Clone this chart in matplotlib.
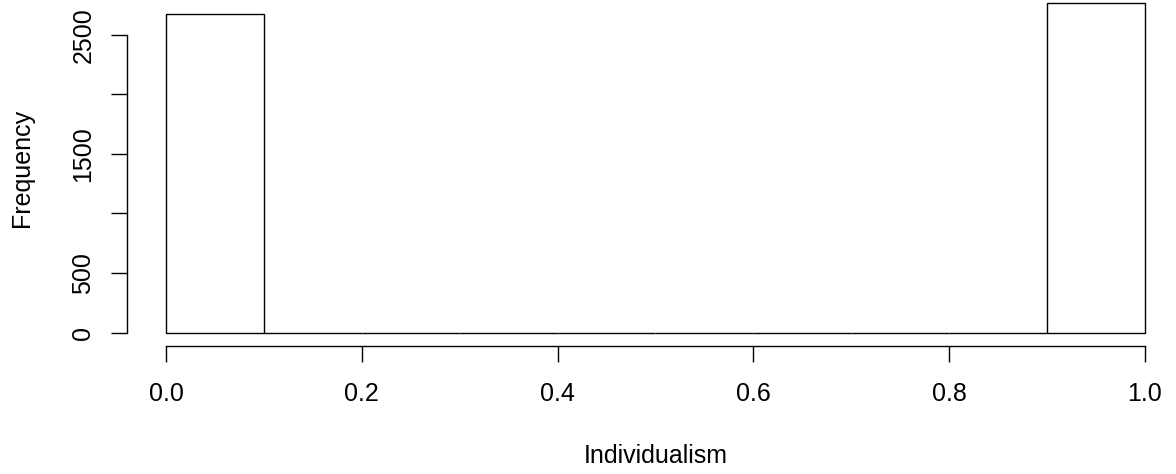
import numpy as np
import matplotlib
matplotlib.use('Agg')
import matplotlib.pyplot as plt

# histogram of Individualism, 10 bins of width 0.1
bin_edges = [0.0, 0.1, 0.2, 0.3, 0.4, 0.5, 0.6, 0.7, 0.8, 0.9, 1.0]
counts = [2670, 0, 0, 0, 0, 0, 0, 0, 0, 2770]

y_ticks = [0, 500, 1000, 1500, 2000, 2500]
y_ticklabels = ['0', '500', '', '1500', '', '2500']
x_ticks = [0.0, 0.2, 0.4, 0.6, 0.8, 1.0]
x_ticklabels = ['0.0', '0.2', '0.4', '0.6', '0.8', '1.0']

plt.rcParams['font.family'] = ['Liberation Sans', 'DejaVu Sans']
plt.rcParams['font.size'] = 18

W, H = 1176, 474
fig = plt.figure(figsize=(W / 100, H / 100), dpi=100)
ax = fig.add_axes([126.7 / W, (H - 346) / H, (W - 126.7) / W, 346 / H])

widths = np.diff(bin_edges)
ax.bar(bin_edges[:-1], counts, width=widths, align='edge',
       fill=False, edgecolor='black', linewidth=1.0)

ax.set_xlim(-0.0401, 1.0317)
ax.set_ylim(-111.6, 2791)

for s in ['top', 'right']:
    ax.spines[s].set_visible(False)
ax.spines['left'].set_bounds(0, 2500)
ax.spines['bottom'].set_bounds(0, 1)
ax.spines['left'].set_linewidth(1.0)
ax.spines['bottom'].set_linewidth(1.0)

ax.set_xticks(x_ticks)
ax.set_xticklabels(x_ticklabels)
ax.set_yticks(y_ticks)
ax.set_yticklabels(y_ticklabels, rotation=90, va='center')
ax.tick_params(axis='x', length=11.2, width=1.0, pad=15)
ax.tick_params(axis='y', length=11.2, width=1.0, pad=11.4)

fig.text(655.5 / W, 1 - 463 / H, 'Individualism', ha='center', va='baseline')
fig.text(34.5 / W, 1 - 167.5 / H, 'Frequency', rotation=90, ha='right', va='center')

fig.savefig('out.png', dpi=100)
